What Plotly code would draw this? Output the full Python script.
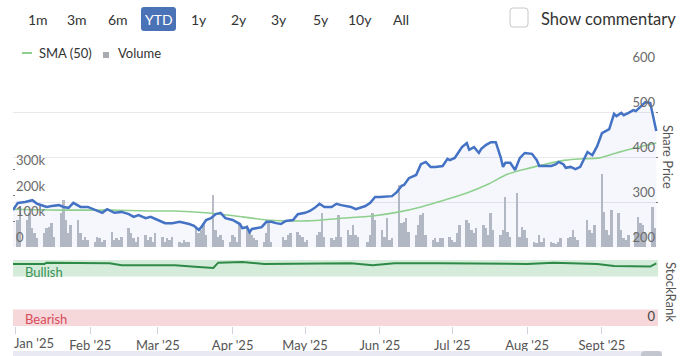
import plotly.graph_objects as go
import pandas as pd

W, H = 686, 356
FONT = "Lato"

# ---------------- data ----------------
price_dates = [
    "2024-12-31", "2025-01-02", "2025-01-05", "2025-01-08", "2025-01-10", "2025-01-12", "2025-01-14",
    "2025-01-16", "2025-01-19", "2025-01-21", "2025-01-23", "2025-01-25", "2025-01-28", "2025-01-31",
    "2025-02-03", "2025-02-06", "2025-02-08", "2025-02-11", "2025-02-14", "2025-02-17", "2025-02-19",
    "2025-02-21", "2025-02-24", "2025-02-26", "2025-03-01", "2025-03-04", "2025-03-07", "2025-03-10",
    "2025-03-14", "2025-03-16", "2025-03-18", "2025-03-19", "2025-03-21", "2025-03-23", "2025-03-25",
    "2025-03-27", "2025-03-29", "2025-04-01", "2025-04-04", "2025-04-05", "2025-04-07", "2025-04-08",
    "2025-04-09", "2025-04-12", "2025-04-13", "2025-04-15", "2025-04-17", "2025-04-19", "2025-04-21",
    "2025-04-23", "2025-04-26", "2025-04-28", "2025-05-01", "2025-05-03", "2025-05-05", "2025-05-07",
    "2025-05-09", "2025-05-12", "2025-05-14", "2025-05-16", "2025-05-18", "2025-05-20", "2025-05-22",
    "2025-05-24", "2025-05-26", "2025-05-28", "2025-05-30", "2025-06-01", "2025-06-04", "2025-06-06",
    "2025-06-08", "2025-06-10", "2025-06-11", "2025-06-13", "2025-06-16", "2025-06-18", "2025-06-20",
    "2025-06-22", "2025-06-24", "2025-06-27", "2025-06-29", "2025-06-30", "2025-07-02", "2025-07-04",
    "2025-07-05", "2025-07-07", "2025-07-08", "2025-07-10", "2025-07-12", "2025-07-13", "2025-07-15",
    "2025-07-17", "2025-07-19", "2025-07-21", "2025-07-22", "2025-07-23", "2025-07-25", "2025-07-27",
    "2025-07-29", "2025-07-31", "2025-08-03", "2025-08-05", "2025-08-06", "2025-08-08", "2025-08-11",
    "2025-08-13", "2025-08-14", "2025-08-16", "2025-08-17", "2025-08-19", "2025-08-21", "2025-08-23",
    "2025-08-26", "2025-08-28", "2025-08-30", "2025-09-01", "2025-09-03", "2025-09-04", "2025-09-06",
    "2025-09-07", "2025-09-09", "2025-09-10", "2025-09-12", "2025-09-14", "2025-09-15", "2025-09-17",
    "2025-09-19", "2025-09-21", "2025-09-23 12:00",
]
price_values = [
    282, 298, 300, 304, 296, 293, 289,
    291, 293, 289, 287, 298, 289, 289,
    282, 276, 284, 276, 278, 273, 267,
    271, 264, 267, 260, 253, 253, 256,
    251, 247, 238, 244, 260, 264, 273,
    276, 264, 260, 251, 242, 244, 233,
    240, 242, 244, 256, 256, 253, 251,
    258, 260, 273, 276, 280, 287, 296,
    289, 289, 296, 293, 291, 289, 284,
    287, 291, 298, 311, 311, 313, 313,
    322, 336, 338, 353, 360, 384, 389,
    378, 378, 380, 396, 393, 398, 416,
    422, 431, 416, 422, 409, 418, 427,
    433, 433, 400, 378, 387, 387, 371,
    398, 409, 407, 393, 380, 380, 380,
    384, 389, 384, 376, 378, 373, 378,
    411, 404, 424, 453, 458, 462, 496,
    491, 498, 493, 498, 504, 502, 511,
    522, 520, 458,
]

sma_dates = [
    "2024-12-31", "2025-01-20", "2025-02-09", "2025-02-26", "2025-03-08", "2025-03-21", "2025-04-05",
    "2025-04-15", "2025-04-24", "2025-05-02", "2025-05-16", "2025-05-29", "2025-06-09", "2025-06-18",
    "2025-06-25", "2025-07-07", "2025-07-16", "2025-07-24", "2025-07-31", "2025-08-07", "2025-08-17",
    "2025-08-24", "2025-08-31", "2025-09-07", "2025-09-13", "2025-09-23 12:00",
]
sma_values = [
    284, 282, 282, 280, 280, 276, 267,
    260, 258, 258, 264, 269, 278, 289,
    300, 320, 340, 362, 373, 382, 393,
    396, 398, 409, 418, 431,
]

# daily volume per trading day, month by month (thousands)
vol_jan = [105, 157, 105, 131, 73, 53, 34, 53, 73, 79, 92, 40, 131, 183, 105, 53, 86, 105, 53, 27, 40, 27]
vol_feb = [21, 40, 34, 21, 27, 60, 27, 34, 27, 40, 73, 53, 34, 21, 40, 47, 27, 40, 21, 53]
vol_mar = [40, 21, 34, 27, 40, 21, 14, 27, 21, 21, 79, 53, 66, 92, 47, 202, 66, 40, 47, 27, 21]
vol_apr = [47, 40, 21, 92, 86, 60, 47, 34, 27, 21, 53, 99, 21, 40, 27, 47, 53, 60, 47, 40]
vol_may = [21, 27, 47, 60, 131, 40, 34, 27, 40, 125, 40, 66, 47, 86, 47, 40, 21, 47, 131, 105]
vol_jun = [66, 40, 112, 27, 34, 241, 92, 99, 112, 60, 47, 86, 125, 131, 47, 27, 34, 21, 34, 34, 40]
vol_jul = [27, 21, 53, 86, 105, 92, 66, 53, 73, 86, 73, 47, 131, 66, 47, 66, 196, 60, 40, 209, 40, 79, 66]
vol_aug = [34, 21, 14, 47, 21, 34, 21, 14, 12, 21, 34, 34, 40, 66, 40, 27, 105, 66, 53, 86]
vol_sep = [284, 137, 66, 47, 144, 131, 66, 34, 27, 47, 60, 118, 92, 86, 60, 157, 73]
market_holidays = ["2025-04-18", "2025-04-21", "2025-05-05", "2025-05-26", "2025-08-25"]

rank_dates = [
    "2024-12-31", "2025-01-13", "2025-01-14", "2025-02-09", "2025-02-14", "2025-03-08", "2025-03-15",
    "2025-03-24", "2025-03-26", "2025-04-05", "2025-04-14", "2025-05-20", "2025-05-29", "2025-06-07",
    "2025-06-26", "2025-08-01", "2025-08-12", "2025-08-30", "2025-09-06", "2025-09-21", "2025-09-23 12:00",
]
rank_values = [94, 94, 96, 95, 92, 92, 90, 88, 96, 97, 94, 95, 92, 95, 95, 94, 96, 94, 91, 90, 95]

month_ticks = ["2025-01-01", "2025-02-01", "2025-03-01", "2025-04-01", "2025-05-01",
               "2025-06-01", "2025-07-01", "2025-08-01", "2025-09-01"]
month_labels = ["Jan '25", "Feb '25", "Mar '25", "Apr '25", "May '25",
                "Jun '25", "Jul '25", "Aug '25", "Sept '25"]

price_ticks = [200, 300, 400, 500, 600]
volume_ticks = [0, 100000, 200000, 300000]
volume_tick_labels = ["0", "100k", "200k", "300k"]

range_buttons = ["1m", "3m", "6m", "YTD", "1y", "2y", "3y", "5y", "10y", "All"]
selected_button = "YTD"

# ---------------- build ----------------
volume = [v * 1000 for v in vol_jan + vol_feb + vol_mar + vol_apr + vol_may +
          vol_jun + vol_jul + vol_aug + vol_sep]
days = pd.bdate_range("2025-01-02", "2025-09-23")
days = days[~days.isin(pd.to_datetime(market_holidays))]
n = min(len(days), len(volume))
days, volume = days[:n], volume[:n]


def px(x):
    return x / W


def py(y):
    return 1 - y / H


def rrect(x0, y0, x1, y1, r):
    X0, X1 = px(x0), px(x1)
    Y0, Y1 = py(y0), py(y1)
    rx, ry = r / W, r / H
    return (f"M {X0+rx},{Y0} L {X1-rx},{Y0} Q {X1},{Y0} {X1},{Y0-ry} "
            f"L {X1},{Y1+ry} Q {X1},{Y1} {X1-rx},{Y1} L {X0+rx},{Y1} "
            f"Q {X0},{Y1} {X0},{Y1+ry} L {X0},{Y0-ry} Q {X0},{Y0} {X0+rx},{Y0} Z")


XDOM = [px(13), px(658)]
XRANGE = ["2024-12-31 00:00", "2025-09-24 05:00"]
PDOM = [py(247), py(67)]
RDOM = [py(326), py(260)]

fig = go.Figure()

fig.add_trace(go.Bar(
    x=days, y=volume, xaxis="x", yaxis="y",
    marker=dict(color="#b9bcc4", line=dict(width=0)),
    width=86400000 * 0.8, hoverinfo="skip", showlegend=False,
))
fig.add_trace(go.Scatter(
    x=price_dates, y=price_values, xaxis="x", yaxis="y2", mode="lines",
    line=dict(width=0), fill="tozeroy", fillcolor="rgba(70,105,200,0.055)",
    hoverinfo="skip", showlegend=False,
))
fig.add_trace(go.Scatter(
    x=sma_dates, y=sma_values, xaxis="x", yaxis="y2", mode="lines",
    line=dict(color="#8fd08f", width=1.6, shape="spline", smoothing=0.8),
    showlegend=False,
))
fig.add_trace(go.Scatter(
    x=price_dates, y=price_values, xaxis="x", yaxis="y2", mode="lines",
    line=dict(color="#4472c4", width=2.5), showlegend=False,
))
fig.add_trace(go.Scatter(
    x=rank_dates, y=rank_values, xaxis="x2", yaxis="y3", mode="lines",
    line=dict(color="#2e8a47", width=2), showlegend=False,
))

axis_font = dict(family=FONT, size=13, color="#6b6b6b")

shapes = [
    # StockRank bands
    dict(type="rect", xref="x2 domain", yref="y3", x0=0, x1=1, y0=75, y1=100,
         fillcolor="#d5ecdb", line_width=0, layer="below"),
    dict(type="rect", xref="x2 domain", yref="y3", x0=0, x1=1, y0=0, y1=25,
         fillcolor="#f6d7da", line_width=0, layer="below"),
    # YTD button
    dict(type="path", xref="paper", yref="paper", path=rrect(141, 7, 176, 31, 3),
         fillcolor="#4a72b6", line_width=0),
    # checkbox
    dict(type="path", xref="paper", yref="paper", path=rrect(510, 8, 528, 27, 3),
         fillcolor="white", line=dict(color="#c8c8c8", width=1)),
    # legend symbols
    dict(type="line", xref="paper", yref="paper", x0=px(22), x1=px(32), y0=py(53), y1=py(53),
         line=dict(color="#8fd08f", width=2)),
    dict(type="rect", xref="paper", yref="paper", x0=px(103), x1=px(109), y0=py(52), y1=py(58),
         fillcolor="#a9abb2", line_width=0),
    # navigator
    dict(type="rect", xref="paper", yref="paper", x0=px(13), x1=px(662), y0=py(351), y1=py(358),
         fillcolor="#e8e9f2", line_width=0),
    dict(type="path", xref="paper", yref="paper", path=rrect(641, 351, 662, 362, 4),
         fillcolor="#c4c6cf", line_width=0),
]

annotations = []
button_x = [37.5, 77, 117.5, 158.5, 199, 239, 279, 320.5, 359.5, 400.5]
for label, bx in zip(range_buttons, button_x):
    annotations.append(dict(
        text=label, x=px(bx), y=py(19.5), xref="paper", yref="paper", showarrow=False,
        xanchor="center", yanchor="middle",
        font=dict(family=FONT, size=14, color="white" if label == selected_button else "#333333"),
    ))
annotations += [
    dict(text="Show commentary", x=px(539), y=py(18.5), xref="paper", yref="paper", showarrow=False,
         xanchor="left", yanchor="middle", font=dict(family=FONT, size=16.5, color="#333333")),
    dict(text="SMA (50)", x=px(37), y=py(53), xref="paper", yref="paper", showarrow=False,
         xanchor="left", yanchor="middle", font=dict(family=FONT, size=13, color="#333333")),
    dict(text="Volume", x=px(116), y=py(53), xref="paper", yref="paper", showarrow=False,
         xanchor="left", yanchor="middle", font=dict(family=FONT, size=13, color="#333333")),
    dict(text="Share Price", x=px(668), y=py(157), xref="paper", yref="paper", showarrow=False,
         textangle=90, xanchor="center", yanchor="middle",
         font=dict(family=FONT, size=13, color="#555555")),
    dict(text="StockRank", x=px(671), y=py(292), xref="paper", yref="paper", showarrow=False,
         textangle=90, xanchor="center", yanchor="middle",
         font=dict(family=FONT, size=13, color="#555555")),
    dict(text="Bullish", x=px(23), y=py(272), xref="paper", yref="paper", showarrow=False,
         xanchor="left", yanchor="middle", font=dict(family=FONT, size=13, color="#3a9355")),
    dict(text="Bearish", x=px(23), y=py(319), xref="paper", yref="paper", showarrow=False,
         xanchor="left", yanchor="middle", font=dict(family=FONT, size=13, color="#d64b5b")),
    dict(text=month_labels[0], x=px(12), y=py(343), xref="paper", yref="paper", showarrow=False,
         xanchor="left", yanchor="middle", font=dict(family=FONT, size=13, color="#555555")),
]

common = dict(automargin=False, zeroline=False, showline=False)

fig.update_layout(
    width=W, height=H, margin=dict(l=0, r=0, t=0, b=0, pad=0, autoexpand=False),
    paper_bgcolor="white", plot_bgcolor="rgba(0,0,0,0)",
    showlegend=False, bargap=0,
    font=dict(family=FONT, color="#555555"),
    xaxis=dict(domain=XDOM, range=XRANGE, type="date", anchor="y",
               showticklabels=False, showgrid=False, ticks="", **common),
    xaxis2=dict(domain=XDOM, range=XRANGE, type="date", anchor="y3", matches="x",
                tickmode="array", tickvals=month_ticks, ticktext=[""] + month_labels[1:],
                ticks="outside", ticklen=7, tickcolor="#d0d3dc", tickwidth=1,
                showgrid=False, tickfont=dict(family=FONT, size=13, color="#555555"), **common),
    yaxis=dict(domain=PDOM, range=[0, 700000], side="left", anchor="x",
               tickmode="array", tickvals=volume_ticks, ticktext=volume_tick_labels,
               ticklabelposition="inside top", ticklabeloverflow="allow",
               ticks="inside", ticklen=2, tickcolor="#777777",
               showgrid=False, tickfont=axis_font, **common),
    yaxis2=dict(domain=PDOM, range=[200, 600], side="right", overlaying="y", anchor="x",
                tickmode="array", tickvals=price_ticks,
                ticklabelposition="inside top", ticklabeloverflow="allow",
                ticks="inside", ticklen=2, tickcolor="#777777",
                showgrid=True, gridcolor="#e9e9ec", gridwidth=1,
                tickfont=axis_font, **common),
    yaxis3=dict(domain=RDOM, range=[0, 100], side="right", anchor="x2",
                tickmode="array", tickvals=[0], ticktext=["0"],
                ticklabelposition="inside top", ticklabeloverflow="allow",
                showgrid=False, tickfont=dict(family=FONT, size=13, color="#444444"), **common),
    shapes=shapes,
    annotations=annotations,
)

fig.write_html("out.html", config={"displayModeBar": False},
               post_script="document.body.style.margin='0';")
